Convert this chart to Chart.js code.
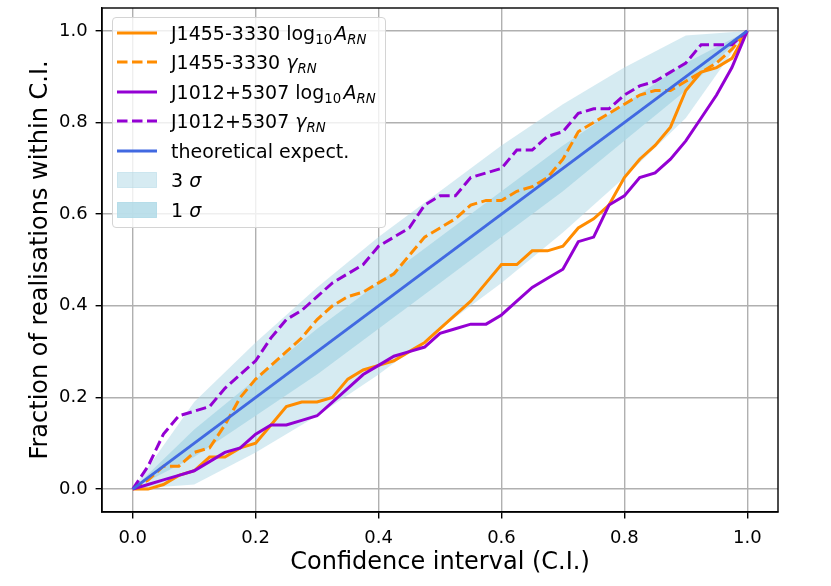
<!DOCTYPE html>
<html>
<head>
<meta charset="utf-8">
<script src="https://cdn.jsdelivr.net/npm/chart.js@4.4.1/dist/chart.umd.min.js"></script>
<style>
  body { margin: 0; background: #fff; }
  #wrap { position: relative; width: 831px; height: 586px; }
  #legend {
    position: absolute; left: 112px; top: 17px; width: 274px; height: 211px;
    box-sizing: border-box; background: rgba(255,255,255,0.8);
    border: 1px solid #d4d4d4; border-radius: 4px;
    font-family: "DejaVu Sans", sans-serif; font-size: 19px; color: #000;
    padding-top: 0px;
  }
  .row { height: 29.5px; display: flex; align-items: center; white-space: nowrap; }
  .handle { width: 40px; height: 16px; margin-left: 4px; margin-right: 14px; flex: none; }
  sub { font-size: 70%; vertical-align: -0.3em; line-height: 0; }
  .ma { margin-left: 0.12em; }
</style>
</head>
<body>
<div id="wrap">
  <canvas id="myChart" width="831" height="586"></canvas>
  <div id="legend"></div>
</div>
<script>
// confidence levels where the realisations were evaluated
var ciLevels = [0, 0.025, 0.05, 0.075, 0.1, 0.125, 0.15, 0.175, 0.2, 0.225, 0.25, 0.275, 0.3, 0.325, 0.35,
    0.375, 0.4, 0.425, 0.45, 0.475, 0.5, 0.525, 0.55, 0.575, 0.6, 0.625, 0.65, 0.675, 0.7, 0.725, 0.75,
    0.775, 0.8, 0.825, 0.85, 0.875, 0.9, 0.925, 0.95, 0.975, 1.0];

var j1455LogA = [0, 0.00, 0.01, 0.03, 0.04, 0.07, 0.07, 0.09, 0.10, 0.14, 0.18, 0.19, 0.19, 0.20, 0.24,
    0.26, 0.27, 0.28, 0.30, 0.32, 0.35, 0.38, 0.41, 0.45, 0.49, 0.49, 0.52, 0.52, 0.53, 0.57, 0.59,
    0.62, 0.68, 0.72, 0.75, 0.79, 0.87, 0.91, 0.92, 0.94, 1.0];
var j1455Gamma = [0, 0.02, 0.05, 0.05, 0.08, 0.09, 0.14, 0.20, 0.24, 0.27, 0.30, 0.33, 0.37, 0.40, 0.42,
    0.43, 0.45, 0.47, 0.51, 0.55, 0.57, 0.59, 0.62, 0.63, 0.63, 0.65, 0.66, 0.68, 0.72, 0.78, 0.80,
    0.82, 0.84, 0.86, 0.87, 0.87, 0.89, 0.91, 0.93, 0.96, 1.0];
var j1012LogA = [0, 0.01, 0.02, 0.03, 0.04, 0.06, 0.08, 0.09, 0.12, 0.14, 0.14, 0.15, 0.16, 0.19, 0.22,
    0.25, 0.27, 0.29, 0.30, 0.31, 0.34, 0.35, 0.36, 0.36, 0.38, 0.41, 0.44, 0.46, 0.48, 0.54, 0.55,
    0.62, 0.64, 0.68, 0.69, 0.72, 0.76, 0.81, 0.86, 0.92, 1.0];
var j1012Gamma = [0, 0.05, 0.12, 0.16, 0.17, 0.18, 0.22, 0.25, 0.28, 0.33, 0.37, 0.39, 0.42, 0.45, 0.47,
    0.49, 0.53, 0.55, 0.57, 0.62, 0.64, 0.64, 0.68, 0.69, 0.70, 0.74, 0.74, 0.77, 0.78, 0.82, 0.83,
    0.83, 0.86, 0.88, 0.89, 0.91, 0.93, 0.97, 0.97, 0.97, 1.0];

// theoretical expectation
var theoryX = [0, 1];
var theoryY = [0, 1];

// credible bands
var bandLevels = [0, 0.1, 0.2, 0.3, 0.4, 0.5, 0.6, 0.7, 0.8, 0.9, 1.0];
var sigma3Lower = [0, 0.01, 0.08, 0.16, 0.25, 0.35, 0.45, 0.56, 0.68, 0.81, 1.0];
var sigma3Upper = [0, 0.19, 0.32, 0.44, 0.55, 0.65, 0.75, 0.84, 0.92, 0.99, 1.0];
var sigma1Lower = [0, 0.07, 0.16, 0.25, 0.35, 0.45, 0.55, 0.65, 0.76, 0.87, 1.0];
var sigma1Upper = [0, 0.13, 0.24, 0.35, 0.45, 0.55, 0.65, 0.75, 0.84, 0.93, 1.0];

var tickValues = [0, 0.2, 0.4, 0.6, 0.8, 1.0];

var ORANGE = '#ff8c00';
var VIOLET = '#9400d3';
var BLUE = '#4169e1';
var BAND3 = 'rgba(173, 216, 230, 0.5)';
var BAND1 = 'rgba(173, 216, 230, 0.8)';
var LW = 3;
var DASH = [10.5, 4.5];

function pts(xs, ys) {
    return xs.map(function(x, i) { return {x: x, y: ys[i]}; });
}

function curve(label, ys, color, dashed, order) {
    return {
        label: label,
        data: pts(ciLevels, ys),
        borderColor: color,
        borderWidth: LW,
        borderDash: dashed ? DASH : [],
        pointRadius: 0,
        fill: false,
        order: order
    };
}

function band(lower, upper, color, order) {
    return [{
        label: 'lower',
        data: pts(bandLevels, lower),
        borderWidth: 0,
        pointRadius: 0,
        fill: false,
        order: order
    }, {
        label: 'upper',
        data: pts(bandLevels, upper),
        borderWidth: 0,
        pointRadius: 0,
        backgroundColor: color,
        fill: '-1',
        order: order
    }];
}

var datasets = [].concat(
    band(sigma3Lower, sigma3Upper, BAND3, 9),
    band(sigma1Lower, sigma1Upper, BAND1, 8),
    [
        curve('J1455-3330 log10 A_RN', j1455LogA, ORANGE, false, 4),
        curve('J1455-3330 gamma_RN', j1455Gamma, ORANGE, true, 3),
        curve('J1012+5307 log10 A_RN', j1012LogA, VIOLET, false, 2),
        curve('J1012+5307 gamma_RN', j1012Gamma, VIOLET, true, 1),
        {
            label: 'theoretical expect.',
            data: pts(theoryX, theoryY),
            borderColor: BLUE,
            borderWidth: LW,
            pointRadius: 0,
            fill: false,
            order: 0
        }
    ]
);

var frame = {
    id: 'frame',
    afterDraw: function(chart) {
        var a = chart.chartArea, ctx = chart.ctx;
        ctx.save();
        ctx.strokeStyle = '#000';
        ctx.lineWidth = 1.4;
        ctx.strokeRect(a.left, a.top, a.right - a.left, a.bottom - a.top);
        ctx.restore();
    }
};

function axis(title, fitFn, titlePad, tickPad) {
    return {
        type: 'linear',
        min: -0.05,
        max: 1.05,
        afterBuildTicks: function(s) {
            s.ticks = tickValues.map(function(v) { return {value: v}; });
        },
        afterFit: fitFn,
        ticks: {
            callback: function(v) { return v.toFixed(1); },
            font: {family: 'DejaVu Sans', size: 18},
            color: '#000',
            padding: tickPad,
            maxRotation: 0
        },
        grid: {
            color: '#b0b0b0',
            lineWidth: 1.4,
            tickColor: '#000',
            tickLength: 6.4
        },
        border: {color: '#000', width: 1.4},
        title: {
            display: true,
            text: title,
            color: '#000',
            font: {family: 'DejaVu Sans', size: 24},
            padding: titlePad
        }
    };
}

var ctx = document.getElementById('myChart').getContext('2d');
var myChart = new Chart(ctx, {
    type: 'line',
    data: {datasets: datasets},
    options: {
        responsive: false,
        animation: false,
        layout: {padding: {top: 8, right: 53, left: 0, bottom: 0}},
        scales: {
            x: axis('Confidence interval (C.I.)', function(s) {
                s.height = 74; s.paddingLeft = 0; s.paddingRight = 0;
            }, {top: 0, bottom: 9}, 9),
            y: axis('Fraction of realisations within C.I.', function(s) {
                s.width = 102; s.paddingTop = 0; s.paddingBottom = 0;
            }, {top: 26, bottom: 0}, 8)
        },
        plugins: {
            legend: {display: false},
            tooltip: {enabled: false}
        }
    },
    plugins: [frame]
});

// legend with math-style labels
function lineHandle(color, dashed) {
    return '<svg class="handle" viewBox="0 0 40 16"><line x1="0" y1="8" x2="40" y2="8" stroke="' + color +
        '" stroke-width="' + LW + '"' + (dashed ? ' stroke-dasharray="' + DASH.join(' ') + '"' : '') + '/></svg>';
}
function patchHandle(color) {
    return '<svg class="handle" viewBox="0 0 40 16"><rect x="0.5" y="0.5" width="39" height="15" fill="' + color +
        '" stroke="' + color + '"/></svg>';
}
var legendRows = [
    [lineHandle(ORANGE, false), 'J1455-3330 log<sub>10</sub><i class="ma">A</i><sub><i>RN</i></sub>'],
    [lineHandle(ORANGE, true), 'J1455-3330 <i>γ</i><sub><i>RN</i></sub>'],
    [lineHandle(VIOLET, false), 'J1012+5307 log<sub>10</sub><i class="ma">A</i><sub><i>RN</i></sub>'],
    [lineHandle(VIOLET, true), 'J1012+5307 <i>γ</i><sub><i>RN</i></sub>'],
    [lineHandle(BLUE, false), 'theoretical expect.'],
    [patchHandle(BAND3), '3 <i>σ</i>'],
    [patchHandle(BAND1), '1 <i>σ</i>']
];
document.getElementById('legend').innerHTML = legendRows.map(function(r) {
    return '<div class="row">' + r[0] + '<span>' + r[1] + '</span></div>';
}).join('');
</script>
</body>
</html>
